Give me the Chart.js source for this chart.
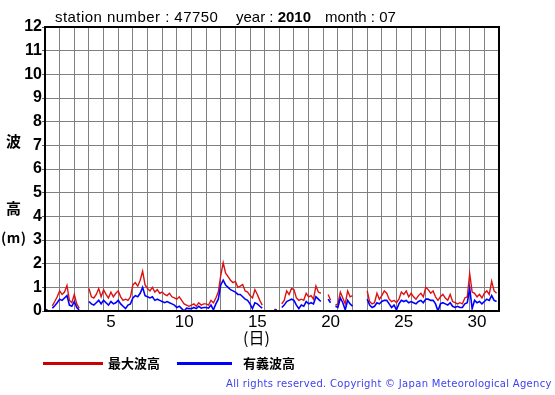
<!DOCTYPE html>
<html lang="ja">
<head>
<meta charset="UTF-8">
<title>波高 47750 2010-07</title>
<script src="https://cdn.jsdelivr.net/npm/chart.js@4.4.1/dist/chart.umd.min.js"></script>
<style>
    body { margin: 0; background: #fff; }
    #wrap { position: relative; width: 555px; height: 395px; font-family: "Liberation Sans", Arial, sans-serif; color: #000; }
    #wrap canvas { position: absolute; left: 0; top: 0; }
    .txt { position: absolute; white-space: nowrap; }
    .head { top: 8px; font-size: 15px; }
    .ytitle { font-family: "Noto Sans CJK JP", sans-serif; font-weight: bold; font-size: 15px; }
    .leg-line { position: absolute; height: 3px; }
    .leg-txt { font-family: "Noto Sans CJK JP", sans-serif; font-weight: bold; font-size: 13px; top: 353px; }
    .copy { left: 226px; top: 378px; font-family: "DejaVu Sans", sans-serif; font-size: 10px; color: #4040f0; letter-spacing: 0.3px; }
</style>
</head>
<body>
<div id="wrap">
    <canvas id="chart" width="555" height="395"></canvas>

    <div class="txt head" style="left:55px;letter-spacing:0.45px">station number : 47750</div>
    <div class="txt head" style="left:236px">year : <b>2010</b></div>
    <div class="txt head" style="left:325px">month : 07</div>

    <div class="txt ytitle" style="left:6px;top:130px">波</div>
    <div class="txt ytitle" style="left:6px;top:197px">高</div>
    <div class="txt ytitle" style="left:1px;top:227px;font-size:14px;letter-spacing:0.5px">(m)</div>

    <div class="txt" style="left:243px;top:325px;font-family:'Noto Sans CJK JP',sans-serif;font-size:16px">(日)</div>

    <div class="leg-line" style="left:43px;top:362px;width:60px;background:#cc0000"></div>
    <div class="txt leg-txt" style="left:108px">最大波高</div>
    <div class="leg-line" style="left:177px;top:362px;width:55px;background:#0000ff"></div>
    <div class="txt leg-txt" style="left:243px">有義波高</div>

    <div class="txt copy">All rights reserved. Copyright © Japan Meteorological Agency</div>
</div>

<script>
// 4時間ごとの値（1日6点）、7月1日〜31日
const samplesPerDay = 6;

// 最大波高 (m)
const maxWave = [
    0.08, 0.05, null, 0.22, 0.4, 0.6,
    0.85, 0.7, 0.8, 1.08, 0.45, 0.35,
    0.7, 0.3, 0.12, null, null, null,
    0.95, 0.6, 0.55, 0.7, 0.95, 0.6,
    0.9, 0.7, 0.55, 0.8, 0.6, 0.75,
    0.85, 0.6, 0.45, 0.5, 0.45, 0.6,
    1.1, 1.2, 1.05, 1.3, 1.68, 1.1,
    0.95, 0.85, 1.0, 0.8, 0.9, 0.75,
    0.8, 0.7, 0.65, 0.75, 0.6, 0.55,
    0.5, 0.6, 0.45, 0.3, 0.25, 0.2,
    0.25, 0.3, 0.2, 0.35, 0.25, 0.3,
    0.3, 0.25, 0.45, 0.35, 0.55, 0.8,
    1.5, 2.04, 1.6, 1.45, 1.3, 1.2,
    1.25, 1.0, 1.05, 1.12, 0.85, 0.8,
    0.65, 0.55, 0.9, 0.7, 0.45, 0.25,
    null, null, null, null, 0.08, 0.05,
    null, 0.3, 0.45, 0.85, 0.7, 0.95,
    0.9, 0.55, 0.45, 0.5, 0.45, 0.75,
    0.6, 0.65, 0.5, 1.06, 0.8, 0.75,
    null, null, 0.7, 0.45, null, 0.25,
    0.3, 0.8, 0.55, 0.3, 0.85, 0.6,
    0.65, null, null, null, null, null,
    0.85, 0.4, 0.3, 0.35, 0.75, 0.5,
    0.65, 0.85, 0.75, 0.5, 0.4, 0.45,
    0.35, 0.5, 0.8, 0.7, 0.85, 0.6,
    0.75, 0.6, 0.5, 0.65, 0.75, 0.6,
    1.0, 0.9, 0.75, 0.85, 0.6, 0.45,
    0.6, 0.7, 0.55, 0.45, 0.7, 0.4,
    0.35, 0.3, 0.35, 0.3, 0.55, 0.6,
    1.58, 0.8, 0.75, 0.6, 0.7, 0.55,
    0.75, 0.85, 0.7, 1.26, 0.85, 0.75
];

// 有義波高 (m)
const sigWave = [
    0.05, 0.03, null, 0.12, 0.22, 0.35,
    0.5, 0.45, 0.55, 0.65, 0.25, 0.2,
    0.4, 0.15, 0.05, null, null, null,
    0.4, 0.3, 0.25, 0.35, 0.45, 0.3,
    0.45, 0.35, 0.25, 0.4, 0.3, 0.35,
    0.45, 0.3, 0.2, 0.1, 0.25, 0.3,
    0.55, 0.65, 0.6, 0.75, 1.0, 0.65,
    0.6, 0.55, 0.6, 0.45, 0.5, 0.45,
    0.4, 0.35, 0.4, 0.35, 0.3, 0.25,
    0.15, 0.2, 0.1, 0.0, 0.12, 0.1,
    0.1, 0.15, 0.1, 0.2, 0.12, 0.15,
    0.15, 0.12, 0.25, 0.05, 0.3, 0.5,
    1.1, 1.3, 1.1, 1.0, 0.9, 0.85,
    0.8, 0.7, 0.7, 0.6, 0.5, 0.45,
    0.3, 0.1, 0.35, 0.3, 0.2, 0.12,
    null, null, null, null, 0.05, 0.02,
    null, 0.15, 0.25, 0.4, 0.45, 0.5,
    0.45, 0.25, 0.1, 0.25, 0.2, 0.4,
    0.3, 0.35, 0.3, 0.6, 0.5, 0.4,
    null, null, 0.5, 0.35, null, 0.2,
    0.15, 0.55, 0.35, 0.05, 0.45, 0.3,
    0.2, null, null, null, null, null,
    0.5, 0.25, 0.15, 0.2, 0.35, 0.3,
    0.4, 0.45, 0.45, 0.3, 0.15, 0.25,
    0.05, 0.3, 0.45, 0.4, 0.45, 0.35,
    0.4, 0.35, 0.3, 0.4, 0.45, 0.35,
    0.5, 0.5, 0.45, 0.45, 0.3, 0.0,
    0.3, 0.35, 0.3, 0.25, 0.35, 0.2,
    0.15, 0.2, 0.15, 0.15, 0.3, 0.35,
    0.95, 0.1, 0.45, 0.35, 0.4, 0.3,
    0.4, 0.5, 0.45, 0.65, 0.45, 0.4
];

const dayLabels = [5, 10, 15, 20, 25, 30];
const yTicks = [0, 1, 2, 3, 4, 5, 6, 7, 8, 9, 10, 11, 12];

// x = 日 + 時刻/24（1日は x=1〜2）
function toPoints(arr) {
    return arr.map((v, i) => ({ x: 1 + i / samplesPerDay, y: v }));
}

// 描画領域の枠
const frame = {
    id: 'frame',
    afterDraw(chart) {
        const a = chart.chartArea, c = chart.ctx;
        c.save();
        c.strokeStyle = '#000';
        c.lineWidth = 2;
        c.strokeRect(a.left, a.top, a.right - a.left, a.bottom - a.top);
        c.restore();
    }
};

new Chart(document.getElementById('chart'), {
    type: 'line',
    data: {
        datasets: [
            { label: '有義波高', data: toPoints(sigWave), borderColor: '#0000ff', borderWidth: 1.6 },
            { label: '最大波高', data: toPoints(maxWave), borderColor: '#dd1111', borderWidth: 1.4 }
        ]
    },
    options: {
        responsive: false,
        animation: false,
        spanGaps: false,
        elements: { point: { radius: 0 }, line: { tension: 0 } },
        layout: { padding: { left: 0, right: 56, top: 27, bottom: 62 } },
        plugins: { legend: { display: false }, tooltip: { enabled: false } },
        scales: {
            x: {
                type: 'linear',
                min: 1,
                max: 32,
                afterBuildTicks(s) {
                    const t = [];
                    for (let d = 1; d <= 32; d++) {
                        t.push({ value: d });
                        if (d < 32 && dayLabels.includes(d)) t.push({ value: d + 0.5 });
                    }
                    s.ticks = t;
                },
                afterFit(s) { s.height = 22; },
                grid: {
                    color: c => (c.tick && c.tick.value % 1 === 0) ? '#808080' : 'rgba(0,0,0,0)',
                    drawTicks: false
                },
                border: { color: '#000', width: 2 },
                ticks: {
                    autoSkip: false,
                    maxRotation: 0,
                    padding: 1,
                    color: '#000',
                    font: { family: 'Liberation Sans', size: 17 },
                    callback: v => (v % 1 === 0.5) ? String(v - 0.5) : ''
                }
            },
            y: {
                min: 0,
                max: 12,
                afterBuildTicks(s) { s.ticks = yTicks.map(v => ({ value: v })); },
                afterFit(s) { s.width = 45; },
                grid: { color: '#808080', tickLength: 3, tickColor: '#606060' },
                border: { color: '#000', width: 2 },
                ticks: {
                    padding: 0,
                    color: '#000',
                    font: { family: 'Liberation Sans', size: 16, weight: 'bold' }
                }
            }
        }
    },
    plugins: [frame]
});
</script>
</body>
</html>
